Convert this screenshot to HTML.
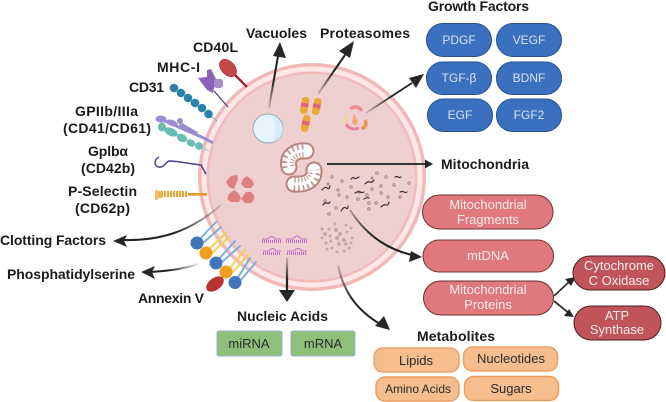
<!DOCTYPE html>
<html><head><meta charset="utf-8"><style>
html,body{margin:0;padding:0;background:#fff}
svg{display:block}
text{font-family:"Liberation Sans",sans-serif}
.b{font-weight:bold;font-size:14px;fill:#1b1b1b}
.w{font-size:13px;fill:#f6ecec;text-anchor:middle}
.u{font-size:12px;fill:#d7e2f3;text-anchor:middle}
.d{font-size:13px;fill:#2a2a2a;text-anchor:middle}
</style></head><body>
<svg width="666" height="402" viewBox="0 0 666 402" xmlns="http://www.w3.org/2000/svg">
<defs>
<linearGradient id="g1" gradientUnits="userSpaceOnUse" x1="269" y1="108" x2="278" y2="55"><stop offset="0" stop-color="#222" stop-opacity=".15"/><stop offset=".5" stop-color="#222"/></linearGradient>
<linearGradient id="g2" gradientUnits="userSpaceOnUse" x1="318" y1="94" x2="345" y2="55"><stop offset="0" stop-color="#222" stop-opacity=".15"/><stop offset=".6" stop-color="#222"/></linearGradient>
<linearGradient id="g3" gradientUnits="userSpaceOnUse" x1="366" y1="113" x2="410" y2="84"><stop offset="0" stop-color="#222" stop-opacity=".15"/><stop offset=".6" stop-color="#222"/></linearGradient>
<linearGradient id="g4" gradientUnits="userSpaceOnUse" x1="220" y1="205" x2="150" y2="238"><stop offset="0" stop-color="#222" stop-opacity=".15"/><stop offset=".7" stop-color="#222"/></linearGradient>
<linearGradient id="g5" gradientUnits="userSpaceOnUse" x1="198" y1="264" x2="160" y2="271"><stop offset="0" stop-color="#222" stop-opacity=".1"/><stop offset=".8" stop-color="#222"/></linearGradient>
<linearGradient id="g6" gradientUnits="userSpaceOnUse" x1="287" y1="258" x2="287" y2="290"><stop offset="0" stop-color="#222" stop-opacity=".2"/><stop offset=".7" stop-color="#222"/></linearGradient>
<linearGradient id="g7" gradientUnits="userSpaceOnUse" x1="338" y1="265" x2="370" y2="315"><stop offset="0" stop-color="#222" stop-opacity=".2"/><stop offset=".6" stop-color="#222"/></linearGradient>
<linearGradient id="g8" gradientUnits="userSpaceOnUse" x1="350" y1="210" x2="400" y2="250"><stop offset="0" stop-color="#222" stop-opacity=".3"/><stop offset=".5" stop-color="#222"/></linearGradient>
</defs>
<rect width="666" height="402" fill="#fff"/>

<!-- cell -->
<circle cx="312" cy="177" r="114" fill="#f0b9b9"/>
<circle cx="312" cy="177" r="110.500" fill="#fbe8e7"/>
<circle cx="312" cy="177" r="105.500" fill="#f0bcbc"/>
<circle cx="312" cy="177" r="103" fill="#edd0cf"/>

<!-- CD40L -->
<line x1="234" y1="74" x2="247" y2="87" stroke="#9c2b30" stroke-width="2.500"/>
<ellipse cx="228" cy="68" rx="10" ry="6.500" transform="rotate(47 228 68)" fill="#c8474b" stroke="#a83236"/>
<!-- MHC-I -->
<line x1="214" y1="91" x2="228" y2="107" stroke="#4b3f86" stroke-width="1.300"/>
<path d="M198 78L207 77L207 70L211 69L216 79L213 93L207 90Z" fill="#8c62b5"/>
<rect x="214" y="79" width="9" height="9" rx="2.500" fill="#a98ccb"/>
<!-- CD31 -->
<line x1="208" y1="114" x2="217" y2="121" stroke="#8aa" stroke-width="1"/>
<g fill="#2b83aa">
<circle cx="174" cy="88" r="4.300"/><circle cx="181" cy="93" r="4.300"/><circle cx="188" cy="98" r="4.300"/><circle cx="195" cy="103" r="4.300"/><circle cx="202" cy="108" r="4.300"/><circle cx="208.500" cy="114" r="4.300"/>
</g>
<!-- GPIIb/IIIa -->
<path d="M160 119 L206 139 L213 143" stroke="#9a8ed0" stroke-width="3" fill="none"/>
<ellipse cx="161" cy="119" rx="5.500" ry="3.500" fill="#9a8ed0"/>
<ellipse cx="172" cy="123" rx="6" ry="3" transform="rotate(20 172 123)" fill="#9a8ed0"/>
<circle cx="180" cy="121" r="3" fill="#9a8ed0"/>
<path d="M180 124L197 134" stroke="#9a8ed0" stroke-width="4"/>
<g fill="#69bdb0">
<ellipse cx="162" cy="127" rx="4" ry="4.500"/>
<ellipse cx="171" cy="132" rx="7" ry="4" transform="rotate(25 171 132)"/>
<ellipse cx="182" cy="138" rx="5.500" ry="3.800" transform="rotate(25 182 138)"/>
<ellipse cx="191" cy="143" rx="4.500" ry="3.500" transform="rotate(25 191 143)"/>
<ellipse cx="199" cy="146" rx="4" ry="3.800" transform="rotate(25 199 146)"/>
</g>
<line x1="203" y1="148" x2="209" y2="151" stroke="#b5c0dc"/>
<!-- GPIb -->
<path d="M159 157 C153 160 154 168 161 167 C165 166 166 162 169 161 C178 161 190 164 201 165 L206 174" fill="none" stroke="#4c3f96" stroke-width="1.500"/>
<!-- P-Selectin -->
<rect x="188" y="193" width="19" height="2.600" fill="#e59a23"/>
<path d="M161 194 H188" stroke="#e8a430" stroke-width="6" stroke-dasharray="2 1"/>
<rect x="155" y="190" width="3" height="10" rx="1" fill="#f3bb6c"/>
<rect x="158" y="191" width="4" height="7" fill="#f0b154"/>

<!-- fragments -->
<g fill="#e07f80">
<path d="M231 176l6 -1l1 4l-2 5l-2 5l-5 -2l-3 -5z"/>
<path d="M247 176l5 4l2 4l-3 4h-6l-4 -4l2 -5z"/>
<path d="M234 190l4 3l3 5l-2 4h-8l-4 -3l2 -5z"/>
<path d="M246 192h5l3 4v4l-3 3h-6l-4 -4z"/>
</g>

<!-- vacuole -->
<ellipse cx="268" cy="128.500" rx="15" ry="14.500" fill="#e8f4fb" stroke="#88adb9" stroke-width="1"/>
<path d="M272 116c4 6 5 15 1 26c6 -2 10 -7 10 -13c0 -6 -4 -11 -11 -13z" fill="#d8eaf4"/>

<!-- proteasomes -->
<g transform="rotate(10 305 105)"><rect x="301" y="97" width="7.500" height="17" rx="3" fill="#e8a93a"/><rect x="301" y="103" width="7.500" height="4" fill="#e5637a"/></g>
<g transform="rotate(12 317 106)"><rect x="313" y="98" width="7.500" height="17" rx="3" fill="#e8a93a"/><rect x="313" y="104" width="7.500" height="4" fill="#e5637a"/></g>
<g transform="rotate(12 306 123)"><rect x="302" y="115" width="7.500" height="17" rx="3" fill="#e8a93a"/><rect x="302" y="121" width="7.500" height="4" fill="#e5637a"/></g>

<!-- granule -->
<path d="M350 109c4 -3 9 -3 12 2" fill="none" stroke="#ec8d94" stroke-width="3.500"/>
<path d="M347 114c-2 4 -2 8 0 12" fill="none" stroke="#f5d48a" stroke-width="2"/>
<path d="M346 124c3 5 8 6 13 4" fill="none" stroke="#e87f9e" stroke-width="3"/>
<path d="M362 129c3 -2 5 -5 3 -9" fill="none" stroke="#ec9250" stroke-width="3.500"/>
<path d="M354 113l4 8l-2 5l-4 -3z" fill="#f2a97a"/>

<!-- mitochondria -->
<g fill="none" stroke-linecap="round">
<path d="M289 167C286 155 297 150 306 151" stroke="#b9837c" stroke-width="17"/>
<path d="M289 167C286 155 297 150 306 151" stroke="#fff" stroke-width="13"/>
<path d="M289 167C286 155 297 150 306 151" stroke="#c39a94" stroke-width="13" stroke-linecap="butt" stroke-dasharray="1.500 2.500"/>
<path d="M289 167C286 155 297 150 306 151" stroke="#fff" stroke-width="3"/>
<path d="M294 184C305 185 315 181 314 170" stroke="#b9837c" stroke-width="17"/>
<path d="M294 184C305 185 315 181 314 170" stroke="#fff" stroke-width="13"/>
<path d="M294 184C305 185 315 181 314 170" stroke="#c39a94" stroke-width="13" stroke-linecap="butt" stroke-dasharray="1.500 2.500"/>
<path d="M294 184C305 185 315 181 314 170" stroke="#fff" stroke-width="3"/>
</g>

<!-- dots -->
<g fill="#e2c4c2" stroke="#9e8985" stroke-width=".9">
<circle cx="332" cy="177" r="1.300"/><circle cx="342" cy="181" r="1.300"/><circle cx="351" cy="187" r="1.300"/><circle cx="377" cy="173" r="1.300"/><circle cx="372" cy="178" r="1"/><circle cx="386" cy="177" r="1.300"/>
<circle cx="394" cy="185" r="1.300"/><circle cx="409" cy="183" r="1.300"/><circle cx="338" cy="190" r="1.300"/><circle cx="328" cy="184" r="1"/><circle cx="359" cy="192" r="1.300"/><circle cx="372" cy="189" r="1.300"/>
<circle cx="381" cy="186" r="1.300"/><circle cx="339" cy="195" r="1.300"/><circle cx="347" cy="197" r="1.300"/><circle cx="358" cy="199" r="1.300"/><circle cx="367" cy="195" r="1.300"/><circle cx="381" cy="193" r="1.300"/>
<circle cx="388" cy="197" r="1.300"/><circle cx="400" cy="197" r="1.300"/><circle cx="325" cy="201" r="1.300"/><circle cx="336" cy="208" r="1.300"/><circle cx="369" cy="203" r="1.300"/><circle cx="376" cy="203" r="1.300"/><circle cx="329" cy="214" r="1.300"/><circle cx="369" cy="209" r="1.300"/>
</g>
<g fill="none" stroke="#3a2d2d" stroke-width="1.200" stroke-linecap="round">
<path d="M351 179q2 -2 3 -1t3 0t2 -1"/><path d="M365 184q3 -3 5 -2t4 -2"/><path d="M322 190q3 -4 5 -2t3 -2"/><path d="M355 193q3 -2 5 -1t4 0"/><path d="M364 199q3 -2 5 -1"/><path d="M395 177q2 -1 3 0t3 0"/><path d="M400 192q2 -1 4 0t3 0"/><path d="M381 207q3 -3 5 -2t3 -3"/><path d="M323 205q2 -3 4 -2t3 -1"/><path d="M341 211q3 -5 5 -3t2 -2"/>
</g>
<!-- metabolite dots -->
<g fill="#c9a8a3">
<circle cx="335" cy="224" r="1.500"/><circle cx="346" cy="225" r="1.500"/><circle cx="322" cy="229" r="1.500"/><circle cx="329" cy="229" r="1.500"/><circle cx="336" cy="230" r="2"/><circle cx="351" cy="228" r="1.500"/><circle cx="325" cy="234" r="2"/><circle cx="340" cy="234" r="2"/><circle cx="347" cy="232" r="1.500"/><circle cx="322" cy="238" r="1.500"/><circle cx="330" cy="236" r="1.500"/><circle cx="337" cy="238" r="2"/><circle cx="344" cy="240" r="2"/><circle cx="352" cy="238" r="1.500"/><circle cx="326" cy="243" r="1.500"/><circle cx="331" cy="241" r="1.500"/><circle cx="339" cy="244" r="2"/><circle cx="346" cy="244" r="1.800"/><circle cx="351" cy="243" r="1.500"/><circle cx="327" cy="249" r="1.500"/><circle cx="332" cy="248" r="1.500"/><circle cx="337" cy="252" r="1.500"/><circle cx="344" cy="251" r="1.500"/><circle cx="349" cy="248" r="1.500"/>
</g>
<!-- nucleic acids -->
<g fill="none" stroke="#c56bc6" stroke-width="1">
<path d="M262 239h6q4 -5 7 0h6"/><path d="M262 241.500h19" stroke-width="3" stroke-dasharray="1 1"/>
<path d="M286 239h7q4 -6 8 0h6"/><path d="M286 241.500h21" stroke-width="3" stroke-dasharray="1 1"/>
<path d="M263 251h6q4 -5 7 0h5"/><path d="M263 253.500h18" stroke-width="3" stroke-dasharray="1 1"/>
<path d="M287 251h7q4 -5 8 0h5"/><path d="M287 253.500h20" stroke-width="3" stroke-dasharray="1 1"/>
</g>

<!-- phospholipid tails -->
<g fill="none" stroke-width="2" stroke-linecap="round">
<g stroke="#7cb0dc">
<path d="M199 240L216 222M203 243L221 227"/>
<path d="M218 260L235 241M222 262L240 246"/>
<path d="M237 279L250 258M240 281L256 262"/>
</g>
<g stroke="#f5d056">
<path d="M208 250L226 233M212 253L229 237"/>
<path d="M229 269L245 250M233 272L248 255"/>
</g>
</g>
<g>
<circle cx="197" cy="243" r="6.500" fill="#3f76bc"/>
<circle cx="216" cy="263" r="6.500" fill="#3f76bc"/>
<circle cx="235" cy="282.500" r="6.500" fill="#3f76bc"/>
<circle cx="206" cy="253" r="6.500" fill="#ee9f1e"/>
<circle cx="226" cy="272" r="6.500" fill="#ee9f1e"/>
</g>
<ellipse cx="215" cy="284" rx="10" ry="6" transform="rotate(-36 215 284)" fill="#b9322d"/>

<!-- arrows -->
<g fill="none" stroke-width="2">
<path d="M269 108L278 56" stroke="url(#g1)"/>
<path d="M318 94L345 55" stroke="url(#g2)"/>
<path d="M366 113L412 83" stroke="url(#g3)" stroke-width="1.800"/>
<path d="M327 164H427" stroke="#333"/>
<path d="M221 205C190 232 160 241 122 240" stroke="url(#g4)"/>
<path d="M198 264C180 270 165 271 150 272" stroke="url(#g5)"/>
<path d="M287 258V295" stroke="url(#g6)" stroke-width="2.200"/>
<path d="M338 265C344 295 360 312 380 324" stroke="url(#g7)"/>
<path d="M350 210C368 238 390 250 412 255" stroke="url(#g8)"/>
<path d="M554 296L570 281M554 301L570 314" stroke="#333" stroke-width="1.800"/>
</g>
<g fill="#262626">
<path d="M280 42L286 58L273 56Z"/>
<path d="M354 41L350 58L339 51Z"/>
<path d="M424 74L416 88L409 78Z"/>
<path d="M433 164L425 159.500V168.500Z"/>
<path d="M113 241L127 235L124 241L127 247Z"/>
<path d="M141 272L155 266L152 272L155 279Z"/>
<path d="M287 302L279 290H295Z"/>
<path d="M390 330L375 326L384 316Z"/>
<path d="M422 257L409 262L411 251Z"/>
<path d="M576 277L571 286L565 279Z"/>
<path d="M574 317L564 316L569 309Z"/>
</g>

<!-- growth factor pills -->
<g fill="#3a70bd" stroke="#28508f" stroke-width="1">
<rect x="426.500" y="23.500" width="65" height="33" rx="16.500"/>
<rect x="496.500" y="23.500" width="65" height="33" rx="16.500"/>
<rect x="426.500" y="62" width="65" height="32.500" rx="16"/>
<rect x="496.500" y="62" width="65" height="32.500" rx="16"/>
<rect x="427.500" y="99" width="65" height="32.500" rx="16"/>
<rect x="496.500" y="99" width="65" height="32.500" rx="16"/>
</g>
<text class="u" x="459" y="44">PDGF</text>
<text class="u" x="529" y="44">VEGF</text>
<text class="u" x="459" y="82">TGF-β</text>
<text class="u" x="529" y="82">BDNF</text>
<text class="u" x="460" y="119">EGF</text>
<text class="u" x="529" y="119">FGF2</text>

<!-- mito pills -->
<g fill="#df797e" stroke="#6a3131" stroke-width="1">
<rect x="422.500" y="195" width="130.500" height="34" rx="17"/>
<rect x="423" y="240" width="130.500" height="32" rx="16"/>
<rect x="423.500" y="281" width="130" height="34" rx="17"/>
</g>
<g fill="#c1545a" stroke="#4c1f22" stroke-width="1">
<rect x="573" y="256" width="92" height="34" rx="17"/>
<rect x="574" y="306" width="87" height="34" rx="17"/>
</g>
<text class="w" x="488" y="209">Mitochondrial</text>
<text class="w" x="488" y="224">Fragments</text>
<text class="w" x="488" y="260">mtDNA</text>
<text class="w" x="488" y="294">Mitochondrial</text>
<text class="w" x="488" y="309">Proteins</text>
<text class="w" x="619" y="270">Cytochrome</text>
<text class="w" x="619" y="285">C Oxidase</text>
<text class="w" x="617" y="320">ATP</text>
<text class="w" x="617" y="334">Synthase</text>

<!-- metabolites -->
<g fill="#f6bd8e" stroke="#ee9f60" stroke-width="1.500">
<rect x="374" y="348" width="85" height="24" rx="9"/>
<rect x="463.500" y="347" width="94" height="24" rx="9"/>
<rect x="376" y="377" width="83" height="24" rx="9"/>
<rect x="464.500" y="376.500" width="94" height="24" rx="9"/>
</g>
<text class="d" x="416" y="365">Lipids</text>
<text class="d" x="511" y="363">Nucleotides</text>
<text class="d" x="418" y="393" style="font-size:12px">Amino Acids</text>
<text class="d" x="511" y="393">Sugars</text>

<!-- green -->
<g fill="#8fc07a" stroke="#9db1d8" stroke-width="1">
<rect x="217" y="331" width="65" height="25" rx="2"/>
<rect x="291" y="331" width="64" height="25" rx="2"/>
</g>
<text class="d" x="249" y="348">miRNA</text>
<text class="d" x="323" y="348">mRNA</text>

<!-- labels -->
<text class="b" x="246" y="38" textLength="61">Vacuoles</text>
<text class="b" x="320" y="38" textLength="90">Proteasomes</text>
<text class="b" x="428" y="11" textLength="101">Growth Factors</text>
<text class="b" x="441" y="169" textLength="88">Mitochondria</text>
<text class="b" x="193" y="52" textLength="45">CD40L</text>
<text class="b" x="157" y="72" textLength="43">MHC-I</text>
<text class="b" x="129" y="92" textLength="35">CD31</text>
<text class="b" x="75" y="116" textLength="63">GPIIb/IIIa</text>
<text class="b" x="63" y="133" textLength="88">(CD41/CD61)</text>
<text class="b" x="88" y="156" textLength="40">Gplbα</text>
<text class="b" x="81" y="173" textLength="54">(CD42b)</text>
<text class="b" x="68" y="196" textLength="69">P-Selectin</text>
<text class="b" x="75" y="213" textLength="55">(CD62p)</text>
<text class="b" x="0" y="245" textLength="106">Clotting Factors</text>
<text class="b" x="7" y="279" textLength="128">Phosphatidylserine</text>
<text class="b" x="138" y="303" textLength="66">Annexin V</text>
<text class="b" x="237" y="321" textLength="91">Nucleic Acids</text>
<text class="b" x="417" y="341" textLength="78">Metabolites</text>
</svg>
</body></html>
